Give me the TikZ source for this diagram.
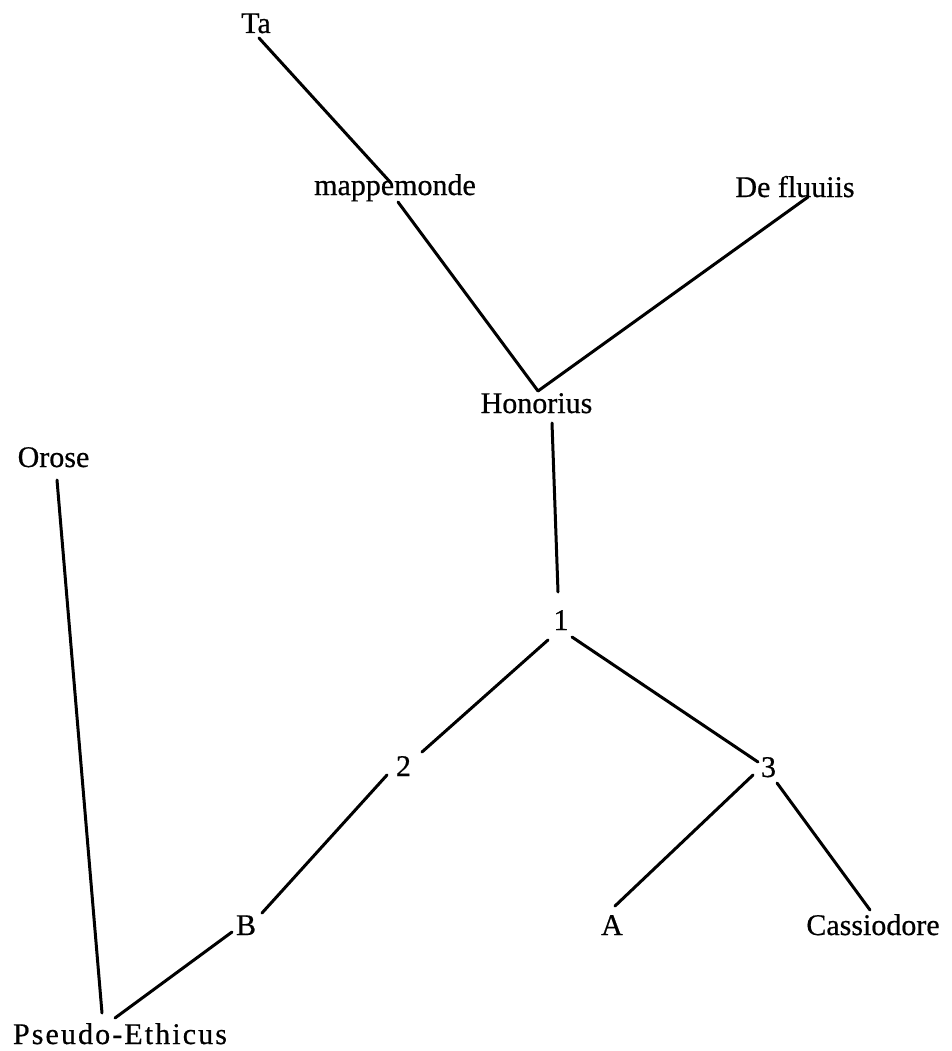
\documentclass[tikz,border=0pt]{standalone}
\usepackage{fontspec}
\setmainfont{Liberation Serif}[FakeBold=0.6]
\newfontfamily\spacedfont{Liberation Serif}[FakeBold=0.6,LetterSpace=7]
\usetikzlibrary{calc}
\begin{document}
\begin{tikzpicture}[x=1pt,y=-1pt,
  lbl/.style={anchor=base,inner sep=0pt,font=\fontsize{30}{30}\selectfont},
  edge/.style={line width=3pt,line cap=round}]
\useasboundingbox (0,0) rectangle (952,1051);
\node[lbl] (ta)    at (256,33)    {Ta};
\node[lbl] (mappe) at (395,195)   {mappemonde};
\node[lbl] (defl)  at (795,197)   {De fluuiis};
\node[lbl] (hon)   at (536.5,413) {Honorius};
\node[lbl] (orose) at (53.5,467)  {Orose};
\node[lbl] (n1)    at (561,630)   {1};
\node[lbl] (n2)    at (403.5,776) {2};
\node[lbl] (n3)    at (768.5,777) {3};
\node[lbl] (nB)    at (246,935)   {B};
\node[lbl] (nA)    at (612,935)   {A};
\node[lbl] (cas)   at (873,935)   {Cassiodore};
\node[lbl,font=\fontsize{30}{30}\spacedfont] (pse) at (120,1044) {Pseudo-Ethicus};
\draw[edge] ($(ta.base)+(3,5)$) -- ($(mappe.base)+(-4,-12)$);
\draw[edge] ($(mappe.base)+(3,7)$) -- ($(hon.base)+(1.5,-22)$);
\draw[edge] ($(defl.base)+(13,0)$) -- ($(hon.base)+(1.5,-22)$);
\draw[edge] ($(hon.base)+(15.5,10)$) -- ($(n1.base)+(-3,-38)$);
\draw[edge] ($(n1.base)+(-13,10)$) -- ($(n2.base)+(18.5,-24)$);
\draw[edge] ($(n1.base)+(11,7)$) -- ($(n3.base)+(-10.5,-15)$);
\draw[edge] ($(n2.base)+(-16.5,-1)$) -- ($(nB.base)+(16,-22)$);
\draw[edge] ($(n3.base)+(-15.5,-2)$) -- ($(nA.base)+(3,-29)$);
\draw[edge] ($(n3.base)+(8.5,6)$) -- ($(cas.base)+(-3,-25)$);
\draw[edge] ($(nB.base)+(-14,-3)$) -- ($(pse.base)+(-5,-26)$);
\draw[edge] ($(orose.base)+(3.5,13)$) -- ($(pse.base)+(-18,-31)$);
\end{tikzpicture}
\end{document}
